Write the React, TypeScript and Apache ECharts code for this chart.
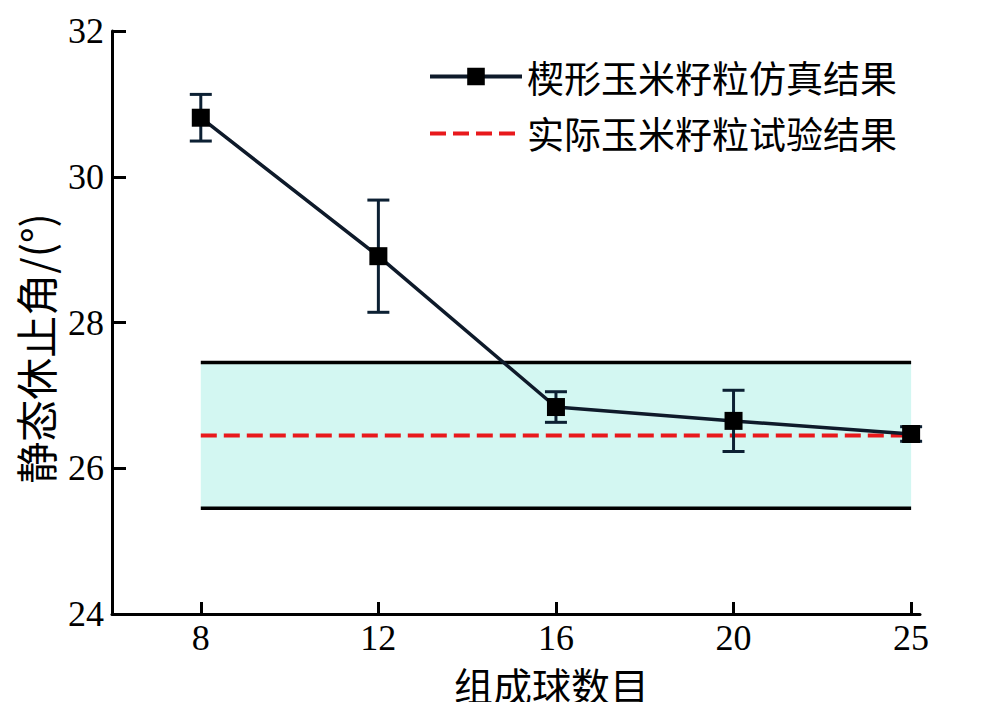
import React, { useEffect, useRef } from "react";
import * as echarts from "echarts";

const categories = ["8", "12", "16", "20", "25"];
const simMean = [30.81, 28.91, 26.84, 26.65, 26.47];
const simErr = [0.32, 0.77, 0.21, 0.42, 0.1];
const actualValue = 26.45;
const bandLow = 25.45;
const bandHigh = 27.45;
const yTicks = [24, 26, 28, 30, 32];
const simName = "楔形玉米籽粒仿真结果";
const actualName = "实际玉米籽粒试验结果";

export default function App() {
  const ref = useRef<HTMLDivElement>(null);
  useEffect(() => {
    if (!ref.current) return;
    const chart = echarts.init(ref.current, null, { renderer: "svg" });
    const idx = categories.map((_, i) => i);
    const last = categories.length - 1;
    const serif = "Liberation Serif, Times New Roman, serif";
    const cjk = "Noto Sans CJK SC";
    chart.setOption({
      animation: false,
      backgroundColor: "#ffffff",
      grid: { left: 112, right: 80, top: 31, bottom: 96 },
      legend: {
        orient: "vertical",
        left: 428,
        top: 58,
        padding: 0,
        itemWidth: 92,
        itemHeight: 22,
        itemGap: 20,
        lineStyle: { width: 4 },
        textStyle: { fontFamily: cjk, fontSize: 37, color: "#000" },
        data: [
          { name: simName },
          { name: actualName, itemStyle: { opacity: 0 } },
        ],
      },
      xAxis: {
        type: "value",
        min: -0.5,
        max: 4.05,
        name: "组成球数目",
        nameLocation: "middle",
        nameGap: 50,
        nameTextStyle: { fontFamily: cjk, fontSize: 39, color: "#000", padding: [0, 0, 0, 71] },
        axisLine: { show: true, onZero: false, lineStyle: { color: "#000", width: 3 } },
        axisTick: { show: true, inside: true, length: 12, customValues: idx, lineStyle: { color: "#000", width: 3 } },
        axisLabel: {
          customValues: idx,
          formatter: (v: number) => categories[Math.round(v)] ?? "",
          fontFamily: serif,
          fontSize: 36,
          color: "#000",
          margin: 6,
        },
        splitLine: { show: false },
      },
      yAxis: {
        type: "value",
        min: yTicks[0],
        max: yTicks[yTicks.length - 1],
        interval: 2,
        name: "静态休止角/(°)",
        nameLocation: "middle",
        nameRotate: 90,
        nameGap: 57,
        nameTextStyle: { fontFamily: cjk, fontSize: 42, color: "#000", padding: [0, 52, 0, 0] },
        axisLine: { show: true, onZero: false, lineStyle: { color: "#000", width: 3 } },
        axisTick: { show: true, inside: true, length: 14, lineStyle: { color: "#000", width: 3 } },
        axisLabel: { fontFamily: serif, fontSize: 36, color: "#000", margin: 8 },
        splitLine: { show: false },
      },
      series: [
        {
          name: "band",
          type: "line",
          data: [[0, bandHigh], [last, bandHigh]],
          symbol: "none",
          lineStyle: { color: "#000", width: 3.5 },
          z: 2,
          markArea: {
            silent: true,
            itemStyle: { color: "#d3f7f2" },
            data: [[{ coord: [0, bandLow] }, { coord: [last, bandHigh] }]],
          },
        },
        {
          name: "bandLow",
          type: "line",
          data: [[0, bandLow], [last, bandLow]],
          symbol: "none",
          lineStyle: { color: "#000", width: 3.5 },
          z: 2,
        },
        {
          name: actualName,
          type: "line",
          data: [[0, actualValue], [last, actualValue]],
          symbol: "none",
          itemStyle: { color: "#e8191c" },
          lineStyle: { color: "#e8191c", width: 4, type: [16, 7] },
          z: 3,
        },
        {
          name: "err",
          type: "custom",
          z: 4,
          data: idx.map((i) => [i, simMean[i] - simErr[i], simMean[i] + simErr[i]]),
          renderItem: (params: any, api: any) => {
            const lo = api.coord([api.value(0), api.value(1)]);
            const hi = api.coord([api.value(0), api.value(2)]);
            const cap = 11;
            const style = { stroke: "#0c2033", lineWidth: 3 };
            return {
              type: "group",
              children: [
                { type: "line", shape: { x1: lo[0], y1: lo[1], x2: hi[0], y2: hi[1] }, style },
                { type: "line", shape: { x1: lo[0] - cap, y1: lo[1], x2: lo[0] + cap, y2: lo[1] }, style },
                { type: "line", shape: { x1: hi[0] - cap, y1: hi[1], x2: hi[0] + cap, y2: hi[1] }, style },
              ],
            };
          },
        },
        {
          name: simName,
          type: "line",
          data: idx.map((i) => [i, simMean[i]]),
          symbol: "rect",
          symbolSize: 18,
          itemStyle: { color: "#000" },
          lineStyle: { color: "#0e1a2a", width: 3.5 },
          z: 5,
        },
      ],
    });
    return () => chart.dispose();
  }, []);
  return <div ref={ref} style={{ width: 1000, height: 710, margin: -8 }} />;
}
